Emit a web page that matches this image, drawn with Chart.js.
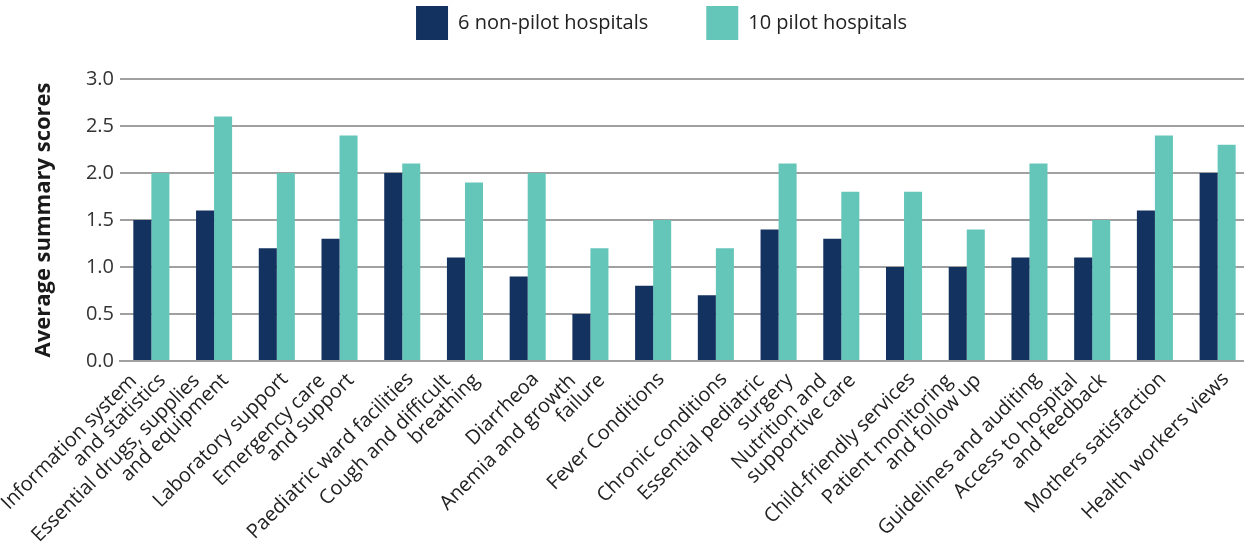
<!DOCTYPE html>
<html>
<head>
<meta charset="utf-8">
<script src="https://cdn.jsdelivr.net/npm/chart.js@4"></script>
<style>
  html, body { margin: 0; padding: 0; background: #fff; overflow: hidden; }
  #wrap { width: 1249px; height: 552px; }
</style>
</head>
<body>
<div id="wrap"><canvas id="chart"></canvas></div>
<script>
var categories = [
    ['Information system', 'and statistics'],
    ['Essential drugs, supplies', 'and equipment'],
    'Laboratory support',
    ['Emergency care', 'and support'],
    'Paediatric ward facilities',
    ['Cough and difficult', 'breathing'],
    'Diarrheoa',
    ['Anemia and growth', 'failure'],
    'Fever Conditions',
    'Chronic conditions',
    ['Essential pediatric', 'surgery'],
    ['Nutrition and', 'supportive care'],
    'Child-friendly services',
    ['Patient monitoring', 'and follow up'],
    'Guidelines and auditing',
    ['Access to hospital', 'and feedback'],
    'Mothers satisfaction',
    'Health workers views'
];
var nonPilot = [1.5, 1.6, 1.2, 1.3, 2.0, 1.1, 0.9, 0.5, 0.8, 0.7, 1.4, 1.3, 1.0, 1.0, 1.1, 1.1, 1.6, 2.0];
var pilot = [2.0, 2.6, 2.0, 2.4, 2.1, 1.9, 2.0, 1.2, 1.5, 1.2, 2.1, 1.8, 1.8, 1.4, 2.1, 1.5, 2.4, 2.3];
var yTicks = [0, 0.5, 1.0, 1.5, 2.0, 2.5, 3.0];

var fontFamily = '"Open Sans", "Noto Sans", sans-serif';
var legendGap = 58;
var labelOffset = 8;

// legend at the very top, centred over the plot area;
// the axis with the two-line labels sits just under the plot
var layoutFixer = {
    id: 'layoutFixer',
    beforeLayout: function(chart) {
        var legend = chart.legend;
        if (legend && !legend._patched) {
            var fit = legend.fit;
            legend.fit = function() {
                fit.call(this);
                this.height = 79;
            };
            legend._patched = true;
        }
    },
    afterLayout: function(chart) {
        var legend = chart.legend;
        legend.top = 6 - legendGap;
        legend.left = chart.chartArea.left - 46;
        legend.right = chart.chartArea.right;
        var x2 = chart.scales.x2;
        x2.top = chart.chartArea.bottom - 13;
        x2.bottom = chart.height;
        x2._labelItems = null;
    }
};

function singleLine(value) {
    var l = this.getLabelForValue(value);
    return Array.isArray(l) ? '' : l;
}
function twoLines(value) {
    var l = this.getLabelForValue(value);
    return Array.isArray(l) ? [l[0] + '    ', l[1]] : '';
}

var tickFont = { family: fontFamily, size: 20, lineHeight: 1.0 };

var ctx = document.getElementById('chart');
var barChart = new Chart(ctx, {
    type: 'bar',
    data: {
        labels: categories,
        datasets: [
            {
                label: '6 non-pilot hospitals',
                data: nonPilot,
                backgroundColor: '#14325f',
                borderWidth: 0
            },
            {
                label: '10 pilot hospitals',
                data: pilot,
                backgroundColor: '#64c5b9',
                borderWidth: 0
            }
        ]
    },
    options: {
        responsive: true,
        maintainAspectRatio: false,
        animation: false,
        layout: { padding: 0 },
        datasets: {
            bar: { categoryPercentage: 0.575, barPercentage: 1.0 }
        },
        scales: {
            x: {
                weight: 0,
                grid: { display: false },
                border: { color: '#a0a0a0', width: 2 },
                ticks: {
                    color: '#222',
                    font: tickFont,
                    maxRotation: 45,
                    minRotation: 45,
                    autoSkip: false,
                    padding: 0,
                    labelOffset: labelOffset,
                    callback: singleLine
                },
                afterFit: function(scale) { scale.height = 191; }
            },
            x2: {
                type: 'category',
                position: 'bottom',
                weight: 1,
                offset: true,
                grid: { display: false },
                border: { display: false },
                ticks: {
                    color: '#222',
                    font: tickFont,
                    maxRotation: 45,
                    minRotation: 45,
                    autoSkip: false,
                    padding: 0,
                    labelOffset: labelOffset - 11,
                    callback: twoLines
                },
                afterFit: function(scale) { scale.height = 0; }
            },
            y: {
                min: 0,
                max: 3,
                afterBuildTicks: function(scale) {
                    scale.ticks = yTicks.map(function(v) { return { value: v }; });
                },
                grid: { color: '#a0a0a0', lineWidth: 2, drawTicks: false },
                border: { display: false },
                ticks: {
                    color: '#333',
                    font: { family: fontFamily, size: 20 },
                    padding: 6,
                    callback: function(v) { return Number(v).toFixed(1); }
                },
                title: {
                    display: true,
                    text: 'Average summary scores',
                    color: '#1a1a1a',
                    font: { family: fontFamily, size: 22, weight: 'bold' },
                    padding: { top: 31, bottom: 0 }
                },
                afterFit: function(scale) { scale.width = 120; }
            }
        },
        plugins: {
            legend: {
                position: 'top',
                labels: {
                    color: '#222',
                    font: { family: fontFamily, size: 20 },
                    boxWidth: 32,
                    boxHeight: 34,
                    padding: legendGap
                }
            },
            tooltip: { enabled: false }
        }
    },
    plugins: [layoutFixer]
});
</script>
</body>
</html>
